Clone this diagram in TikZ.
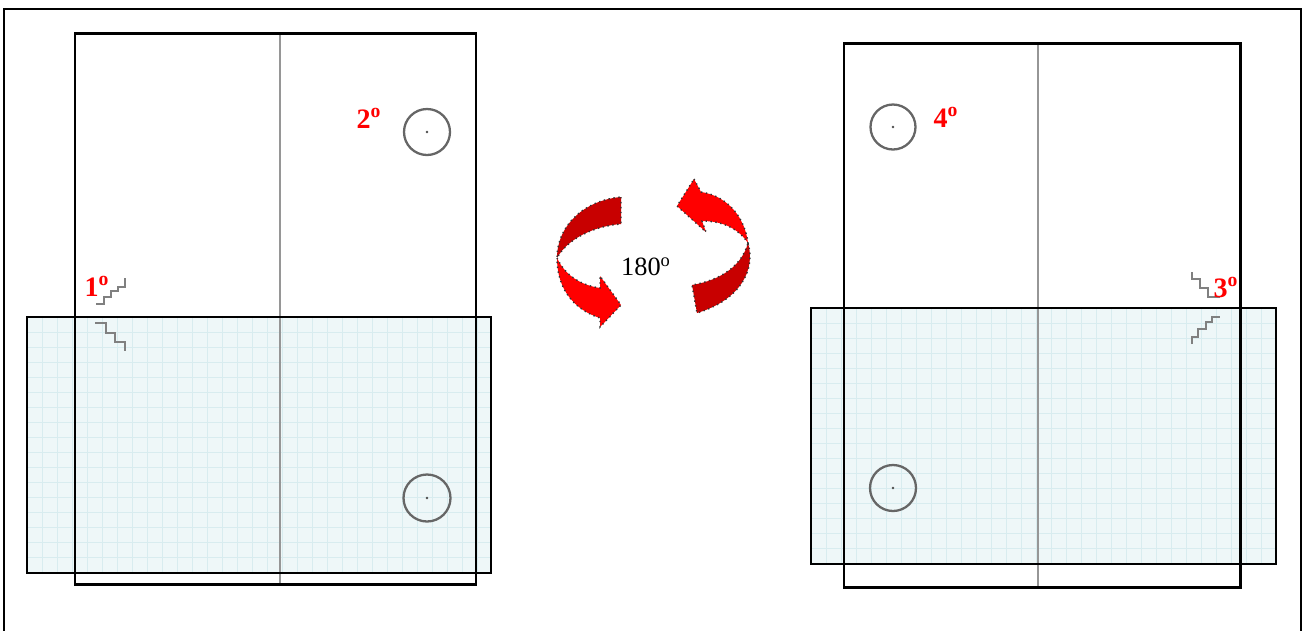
\documentclass[tikz,border=0pt]{standalone}
\usepackage{fontspec}
\setmainfont{Liberation Serif}
\usetikzlibrary{calc}
\definecolor{sheetblue}{RGB}{238,247,248}
\definecolor{gridblue}{RGB}{216,236,239}
\definecolor{darkred}{RGB}{200,0,0}
\definecolor{brightred}{RGB}{255,0,0}
\definecolor{axisgray}{RGB}{150,150,150}

\begin{document}
\begin{tikzpicture}[x=0.02cm,y=-0.02cm,
    frame/.style={line width=1.7pt},
    sheet/.style={line width=1.1pt},
    gridline/.style={gridblue,line width=0.35pt},
    axis/.style={axisgray,line width=1.1pt},
    hole/.style={black!60,line width=1.3pt},
    stair/.style={gray,line width=1.1pt},
    ribbon/.style={draw=black!80,dotted,line width=0.8pt},
    ordlabel/.style={red,font=\fontsize{16}{18}\selectfont\bfseries,inner sep=0pt}]
    \useasboundingbox (0,0) rectangle (1303,630);

    % outer frame (open at the bottom)
    \draw[line width=1.2pt] (4,640) -- (4,9) -- (1301,9) -- (1301,640);

    % left sheet
    \coordinate (la) at (27,317);
    \coordinate (lb) at (491,573);
    \fill[sheetblue] (la) rectangle (lb);
    \foreach \gx in {42,57,...,486} \draw[gridline] (\gx,317) -- (\gx,573);
    \foreach \gy in {332,347,...,570} \draw[gridline] (27,\gy) -- (491,\gy);
    \draw[axis] (280,35) -- (280,584);
    \draw[frame] (75,33) rectangle (476,584);
    \draw[sheet] (la) rectangle (lb);

    \draw[hole] (427,132) circle (23);
    \fill[black!70] (427,132) circle (1.3);
    \draw[hole] (427,498) circle (23.5);
    \fill[black!70] (427,498) circle (1.3);

    \draw[stair] (96,304) -- (104,304) -- (104,297) -- (111,297) -- (111,291)
        -- (118,291) -- (118,287) -- (125,287) -- (125,278);
    \draw[stair] (95,323) -- (106,323) -- (106,333) -- (115,333) -- (115,342)
        -- (125,342) -- (125,351);

    \node[ordlabel] (n1) at (97,286) {1\textsuperscript{o}};
    \node[ordlabel] (n2) at (369,118) {2\textsuperscript{o}};

    % rotation arrows
    \filldraw[ribbon,fill=darkred] (621,197) -- (621,224)
        .. controls (595,226) and (568,238) .. (557,258)
        .. controls (557,225) and (585,200) .. (621,197) -- cycle;
    \filldraw[ribbon,fill=brightred] (557,258)
        .. controls (565,275) and (580,285) .. (600,288) -- (600,276)
        -- (621,305) -- (600,327) -- (600,318)
        .. controls (575,310) and (557,290) .. (557,258) -- cycle;
    \filldraw[ribbon,fill=brightred] (694,179) -- (701,192)
        .. controls (728,196) and (745,218) .. (748,243)
        .. controls (738,228) and (722,221) .. (702,221)
        -- (706,232) -- (677,206) -- cycle;
    \filldraw[ribbon,fill=darkred] (748,243)
        .. controls (756,270) and (740,300) .. (697,313) -- (692,285)
        .. controls (722,280) and (742,265) .. (748,243) -- cycle;
    \node[font=\fontsize{15}{17}\selectfont] (deg) at (646,267) {180\textsuperscript{o}};

    % right sheet
    \coordinate (ra) at (811,308);
    \coordinate (rb) at (1276,564);
    \fill[sheetblue] (ra) rectangle (rb);
    \foreach \gx in {826,841,...,1271} \draw[gridline] (\gx,308) -- (\gx,564);
    \foreach \gy in {323,338,...,561} \draw[gridline] (811,\gy) -- (1276,\gy);
    \draw[axis] (1038,44) -- (1038,587);
    \draw[frame] (844,43) rectangle (1240,587);
    \draw[sheet] (ra) rectangle (rb);

    \draw[hole] (893,127) circle (22.5);
    \fill[black!70] (893,127) circle (1.3);
    \draw[hole] (893,488) circle (23);
    \fill[black!70] (893,488) circle (1.3);

    \draw[stair] (1192,272) -- (1192,279) -- (1200,279) -- (1200,288) -- (1208,288)
        -- (1208,297) -- (1220,297);
    \draw[stair] (1192,344) -- (1192,337) -- (1198,337) -- (1198,329) -- (1206,329)
        -- (1206,322) -- (1212,322) -- (1212,317) -- (1220,317);

    \node[ordlabel] (n3) at (1226,287) {3\textsuperscript{o}};
    \node[ordlabel] (n4) at (946,117) {4\textsuperscript{o}};
\end{tikzpicture}
\end{document}
